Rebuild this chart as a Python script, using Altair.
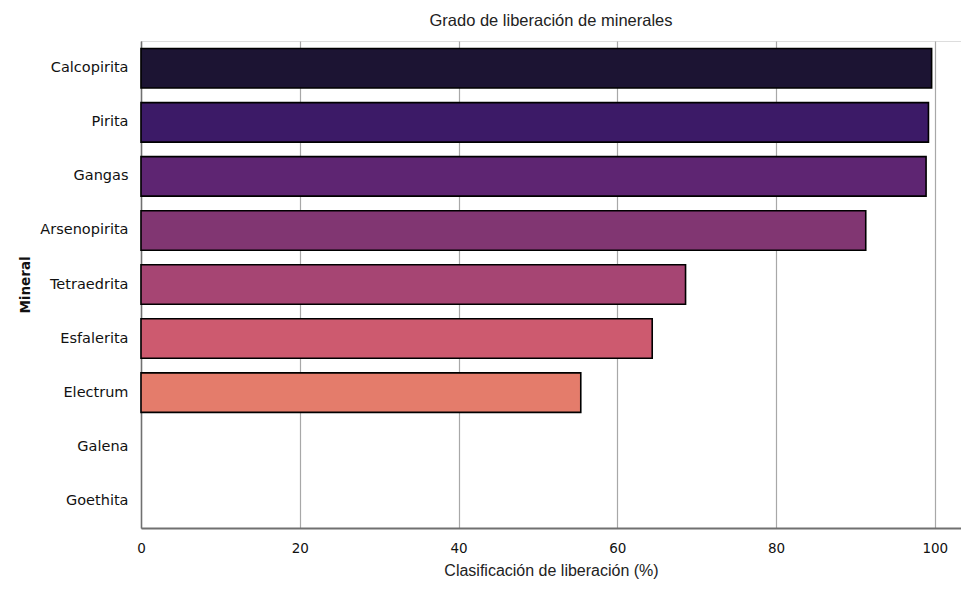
import altair as alt
import pandas as pd

minerals = ["Calcopirita", "Pirita", "Gangas", "Arsenopirita", "Tetraedrita",
            "Esfalerita", "Electrum", "Galena", "Goethita"]
liberation = [99.6, 99.2, 98.9, 91.3, 68.6, 64.4, 55.4, 0, 0]
colors = ["#1c1433", "#3c1a67", "#5e2572", "#813672", "#a64573",
          "#cd5a6f", "#e47c6b", "#f2a07c", "#f8c89a"]
x_ticks = [0, 20, 40, 60, 80, 100]

df = pd.DataFrame({"Mineral": minerals, "Liberacion": liberation})

bars = alt.Chart(df).mark_bar(stroke="black", strokeWidth=1.6).encode(
    x=alt.X("Liberacion:Q",
            scale=alt.Scale(domain=[0, 103.3], nice=False, zero=True),
            axis=alt.Axis(values=x_ticks, title="Clasificación de liberación (%)",
                          grid=True, gridColor="#a8a8a8", gridWidth=1.2,
                          ticks=False, labelPadding=13, labelFlush=False,
                          domainColor="#707070", domainWidth=2,
                          labelFont="DejaVu Sans", labelFontSize=13.5, labelColor="#111",
                          titleFont="Liberation Sans", titleFontSize=16,
                          titleFontWeight="normal", titleColor="#222", titlePadding=8)),
    y=alt.Y("Mineral:N", sort=minerals,
            scale=alt.Scale(paddingInner=0.27, paddingOuter=0.14),
            axis=alt.Axis(title="Mineral", ticks=False, labelPadding=13,
                          domainColor="#707070", domainWidth=1.5,
                          labelFont="DejaVu Sans", labelFontSize=14.5, labelColor="#111",
                          titleFont="DejaVu Sans", titleFontSize=13.5,
                          titleFontWeight="bold", titleColor="#111", titlePadding=7)),
    color=alt.Color("Mineral:N", sort=minerals,
                    scale=alt.Scale(domain=minerals, range=colors), legend=None),
    strokeOpacity=alt.condition("datum.Liberacion > 0", alt.value(1), alt.value(0)),
)

chart = bars.properties(
    width=820, height=487,
    title=alt.TitleParams("Grado de liberación de minerales",
                          font="Liberation Sans", fontSize=16.5,
                          fontWeight="normal", color="#222", offset=12,
                          anchor="middle"),
    autosize=alt.AutoSizeParams(type="none"),
    padding={"left": 133, "top": 33, "right": 0, "bottom": 55},
).configure_view(stroke="#c8c8c8", strokeWidth=1.5).configure(background="white")

chart.save("out.html", embed_options={"renderer": "svg", "actions": False})
